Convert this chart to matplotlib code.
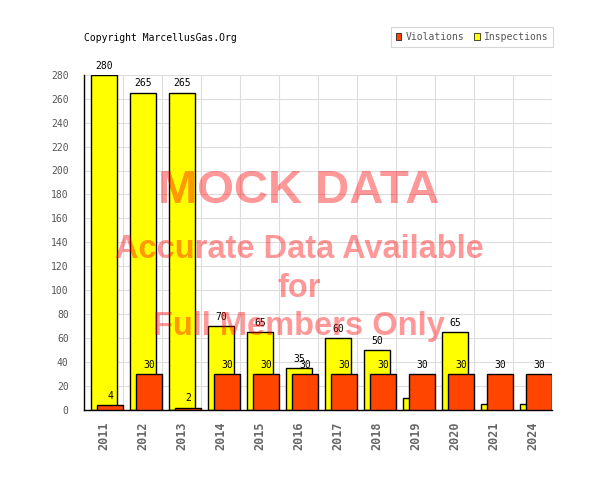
import matplotlib
matplotlib.use('Agg')
import matplotlib.pyplot as plt
from matplotlib.patches import Patch
import numpy as np

years = ['2011', '2012', '2013', '2014', '2015', '2016',
         '2017', '2018', '2019', '2020', '2021', '2024']
violations = [4, 30, 2, 30, 30, 30, 30, 30, 30, 30, 30, 30]
inspections = [280, 265, 265, 70, 65, 35, 60, 50, 10, 65, 5, 5]
# inspections drawn without a number on top
no_label = ['2019', '2021', '2024']

mono = 'DejaVu Sans Mono'
red = '#ff4500'
yellow = '#ffff00'
grey = '#555555'

fig = plt.figure(figsize=(6, 5), dpi=100)
ax = fig.add_axes([84 / 600, 90 / 500, 468 / 600, 335.3 / 500])

x = np.arange(len(years))
w = 0.667
yb = ax.bar(x + 0.025, inspections, w, color=yellow, edgecolor='black', linewidth=1, zorder=2)
rb = ax.bar(x + 0.167, violations, w, color=red, edgecolor='black', linewidth=1, zorder=3)

for rect, v, yr in zip(yb, inspections, years):
    if yr in no_label:
        continue
    ax.annotate(str(v), (rect.get_x() + rect.get_width() / 2, v), xytext=(0, 3),
                textcoords='offset points', ha='center', va='bottom',
                fontsize=7, family=mono, zorder=5, annotation_clip=False)
for rect, v in zip(rb, violations):
    ax.annotate(str(v), (rect.get_x() + rect.get_width() / 2, v), xytext=(0, 3),
                textcoords='offset points', ha='center', va='bottom',
                fontsize=7, family=mono, zorder=5)

ax.set_xlim(-0.5, len(years) - 0.5)
ax.set_ylim(0, 280)
ax.set_yticks(np.arange(0, 281, 20))
ax.set_xticks(x)
ax.set_xticks(np.arange(len(years) + 1) - 0.5, minor=True)
ax.set_xticklabels(years, rotation=90, fontsize=8.5, family=mono, fontweight='bold', color='#666666')
for lab in ax.get_yticklabels():
    lab.set_family(mono)
    lab.set_fontsize(7)
    lab.set_color(grey)
ax.tick_params(axis='both', which='both', length=0)
ax.tick_params(axis='y', pad=11)
ax.tick_params(axis='x', pad=8)
ax.grid(True, axis='y', which='major', color='#dddddd', linewidth=0.8, zorder=0)
ax.grid(True, axis='x', which='minor', color='#dddddd', linewidth=0.8, zorder=0)
ax.set_axisbelow(True)
for s in ['top', 'right']:
    ax.spines[s].set_visible(False)
ax.spines['left'].set_linewidth(1)
ax.spines['bottom'].set_linewidth(1)

fig.text(84 / 600, 1 - 38 / 500, 'Copyright MarcellusGas.Org', fontsize=7,
         family=mono, va='center', ha='left')

handles = [Patch(facecolor=red, edgecolor='black', linewidth=0.5, label='Violations'),
           Patch(facecolor=yellow, edgecolor='black', linewidth=0.5, label='Inspections')]
leg = fig.legend(handles=handles, loc='upper right', bbox_to_anchor=(553 / 600, 1 - 27 / 500),
                 ncol=2, prop={'family': mono, 'size': 7}, frameon=True,
                 fancybox=False, edgecolor='#cccccc', handlelength=0.6, handleheight=0.6,
                 handletextpad=0.4, columnspacing=1.0, borderpad=0.5, borderaxespad=0)
leg.get_frame().set_linewidth(0.8)
for t in leg.get_texts():
    t.set_color(grey)

wm = dict(color='#ff0000', alpha=0.4, fontweight='bold', family='Liberation Sans',
          ha='center', va='baseline', zorder=10)
fig.text(299 / 600, 1 - 203 / 500, 'MOCK DATA', fontsize=34, **wm)
fig.text(299 / 600, 1 - 258 / 500, 'Accurate Data Available', fontsize=23.5, **wm)
fig.text(299 / 600, 1 - 297 / 500, 'for', fontsize=23.5, **wm)
fig.text(299 / 600, 1 - 335 / 500, 'Full Members Only', fontsize=23.5, **wm)

fig.savefig('out.png', dpi=100)
